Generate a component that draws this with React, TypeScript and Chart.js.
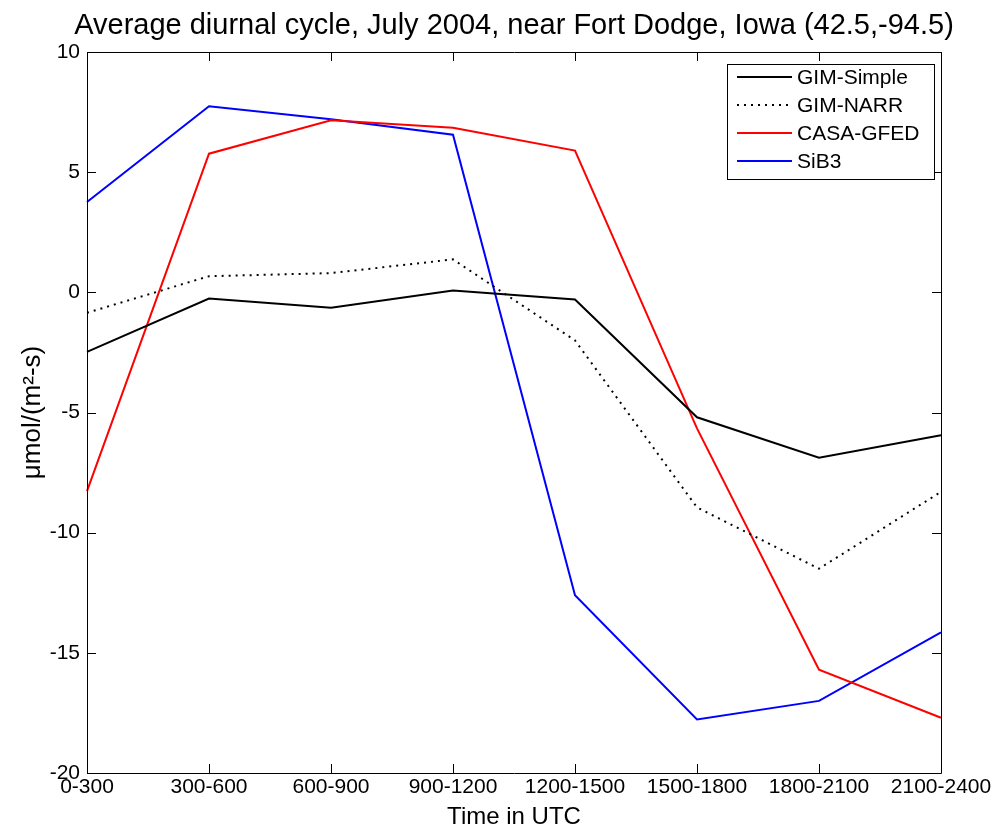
import React, { useEffect, useRef } from "react";
import { Chart, registerables } from "chart.js";

Chart.register(...registerables);

const categories = ["0-300", "300-600", "600-900", "900-1200", "1200-1500", "1500-1800", "1800-2100", "2100-2400"];
const gimSimple = [-2.48, -0.26, -0.64, 0.08, -0.3, -5.2, -6.88, -5.95];
const gimNarr = [-0.85, 0.67, 0.8, 1.37, -2.0, -8.95, -11.5, -8.3];
const casaGfed = [-8.27, 5.77, 7.16, 6.85, 5.9, -5.66, -15.7, -17.7];
const sib3 = [3.76, 7.74, 7.2, 6.56, -12.6, -17.77, -17.0, -14.15];
const yTicks = [-20, -15, -10, -5, 0, 5, 10];
const titleText = "Average diurnal cycle, July 2004, near Fort Dodge, Iowa (42.5,-94.5)";

const FONT = "'Liberation Sans', Arial, Helvetica, sans-serif";

const frameAndLegend = {
  id: "frameAndLegend",
  afterDatasetsDraw(chart: any) {
    const { ctx, chartArea, scales } = chart;
    const { left, right, top, bottom } = chartArea;
    ctx.save();
    // title centred over the plot area
    ctx.fillStyle = "#000";
    ctx.font = `29px ${FONT}`;
    ctx.textAlign = "center";
    ctx.textBaseline = "alphabetic";
    ctx.fillText(titleText, (left + right) / 2, 34);

    ctx.strokeStyle = "#000";
    ctx.lineWidth = 1;
    ctx.beginPath();
    ctx.rect(left + 0.5, top + 0.5, right - left, bottom - top);
    ctx.stroke();
    const tl = 9;
    ctx.beginPath();
    const xs = scales.x;
    for (let i = 0; i < categories.length; i++) {
      const px = Math.round(xs.getPixelForValue(i)) + 0.5;
      ctx.moveTo(px, bottom);
      ctx.lineTo(px, bottom - tl);
      ctx.moveTo(px, top);
      ctx.lineTo(px, top + tl);
    }
    const ys = scales.y;
    for (const v of yTicks) {
      const py = Math.round(ys.getPixelForValue(v)) + 0.5;
      ctx.moveTo(left, py);
      ctx.lineTo(left + tl, py);
      ctx.moveTo(right, py);
      ctx.lineTo(right - tl, py);
    }
    ctx.stroke();

    // legend
    const bx = right - 214;
    const by = top + 12;
    const bw = 207;
    const bh = 115;
    ctx.fillStyle = "#fff";
    ctx.fillRect(bx, by, bw, bh);
    ctx.strokeStyle = "#000";
    ctx.lineWidth = 1;
    ctx.strokeRect(bx + 0.5, by + 0.5, bw, bh);
    ctx.font = `21px ${FONT}`;
    ctx.textBaseline = "middle";
    ctx.textAlign = "left";
    chart.data.datasets.forEach((ds: any, i: number) => {
      const ry = by + 13 + i * 28;
      ctx.beginPath();
      ctx.strokeStyle = ds.borderColor;
      ctx.lineWidth = ds.borderWidth;
      ctx.setLineDash(ds.borderDash || []);
      ctx.moveTo(bx + 10, ry);
      ctx.lineTo(bx + 65, ry);
      ctx.stroke();
      ctx.setLineDash([]);
      ctx.fillStyle = "#000";
      ctx.fillText(ds.label, bx + 70, ry + 1);
    });
    ctx.restore();
  },
};

export default function App() {
  const ref = useRef<HTMLCanvasElement | null>(null);
  useEffect(() => {
    document.body.style.margin = "0";
    const canvas = ref.current!;
    const chart = new Chart(canvas, {
      type: "line",
      data: {
        labels: categories,
        datasets: [
          { label: "GIM-Simple", data: gimSimple, borderColor: "#000000", borderWidth: 2, pointRadius: 0, fill: false, tension: 0 },
          { label: "GIM-NARR", data: gimNarr, borderColor: "#000000", borderWidth: 2, borderDash: [2, 5], pointRadius: 0, fill: false, tension: 0 },
          { label: "CASA-GFED", data: casaGfed, borderColor: "#ff0000", borderWidth: 2, pointRadius: 0, fill: false, tension: 0 },
          { label: "SiB3", data: sib3, borderColor: "#0000ff", borderWidth: 2, pointRadius: 0, fill: false, tension: 0 },
        ],
      },
      options: {
        animation: false,
        responsive: false,
        maintainAspectRatio: false,
        layout: { padding: { left: 0, right: 58, top: 52, bottom: 0 } },
        plugins: {
          legend: { display: false },
          tooltip: { enabled: false },
          title: { display: false },
        },
        scales: {
          x: {
            type: "category",
            offset: false,
            grid: { display: false, drawTicks: false },
            border: { display: false },
            ticks: { color: "#000", font: { family: FONT, size: 21 }, padding: 2, maxRotation: 0, autoSkip: false },
            title: { display: true, text: "Time in UTC", color: "#000", font: { family: FONT, size: 24 }, padding: { top: 0, bottom: 0 } },
            afterFit: (s: any) => { s.height = 59; },
          },
          y: {
            min: -20,
            max: 10,
            afterBuildTicks: (s: any) => { s.ticks = yTicks.map((v) => ({ value: v })); },
            grid: { display: false, drawTicks: false },
            border: { display: false },
            ticks: { color: "#000", font: { family: FONT, size: 21 }, padding: 7 },
            title: { display: true, text: "μmol/(m²-s)", color: "#000", font: { family: FONT, size: 26 }, padding: { top: 17, bottom: 0 } },
            afterFit: (s: any) => { s.width = 87; },
          },
        },
      },
      plugins: [frameAndLegend],
    });
    return () => chart.destroy();
  }, []);
  return (
    <div style={{ position: "absolute", left: 0, top: 0, width: 999, height: 832, background: "#fff" }}>
      <canvas ref={ref} width={999} height={832} style={{ display: "block", width: 999, height: 832 }} />
    </div>
  );
}
